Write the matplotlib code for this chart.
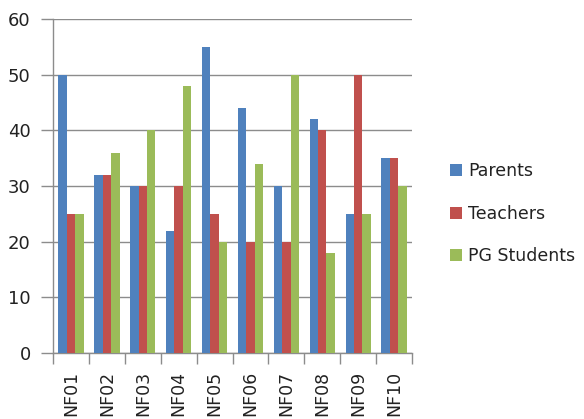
import matplotlib
matplotlib.use("Agg")
import matplotlib.pyplot as plt
import numpy as np

categories = ["NF01", "NF02", "NF03", "NF04", "NF05", "NF06", "NF07", "NF08", "NF09", "NF10"]
parents = [50, 32, 30, 22, 55, 44, 30, 42, 25, 35]
teachers = [25, 32, 30, 30, 25, 20, 20, 40, 50, 35]
pg_students = [25, 36, 40, 48, 20, 34, 50, 18, 25, 30]
series_names = ["Parents", "Teachers", "PG Students"]
colors = ["#4F81BD", "#C0504D", "#9BBB59"]
yticks = [0, 10, 20, 30, 40, 50, 60]

plt.rcParams['font.family'] = ['DejaVu Sans']

fig = plt.figure(figsize=(5.84, 4.19), dpi=100)
ax = fig.add_axes([0.0908, 0.1575, 0.6147, 0.7972])

x = np.arange(len(categories))
w = 0.235
for i, (vals, name, c) in enumerate(zip([parents, teachers, pg_students], series_names, colors)):
    ax.bar(x + (i - 1) * w, vals, width=w, color=c, label=name, zorder=3)

ax.set_xlim(-0.5, len(categories) - 0.5)
ax.set_ylim(0, 60)
ax.set_yticks(yticks)
ax.set_yticklabels([str(v) for v in yticks], fontsize=13, color="#222222")
ax.yaxis.grid(True, color="#8c8c8c", linewidth=1.0, zorder=0)
ax.set_axisbelow(True)

ax.set_xticks(np.arange(len(categories) + 1) - 0.5)
ax.set_xticklabels([])
ax.set_xticks(x, minor=True)
ax.set_xticklabels(categories, minor=True, rotation=90, fontsize=12.5, color="#222222")
ax.tick_params(axis='x', which='major', length=8, width=1, color="#8c8c8c")
ax.tick_params(axis='x', which='minor', length=0, pad=13)
ax.tick_params(axis='y', length=9, width=1, color="#8c8c8c", pad=7)

for s in ["top", "right"]:
    ax.spines[s].set_visible(False)
for s in ["left", "bottom"]:
    ax.spines[s].set_color("#8c8c8c")
    ax.spines[s].set_linewidth(1.0)

handles, labels = ax.get_legend_handles_labels()
fig.legend(handles, labels, loc="center left", bbox_to_anchor=(0.749, 0.49),
           frameon=False, fontsize=12.5, handlelength=0.7, handleheight=0.7,
           handletextpad=0.35, labelspacing=1.4, labelcolor="#222222",
           borderpad=0.2)

fig.savefig("out.png", dpi=100)
